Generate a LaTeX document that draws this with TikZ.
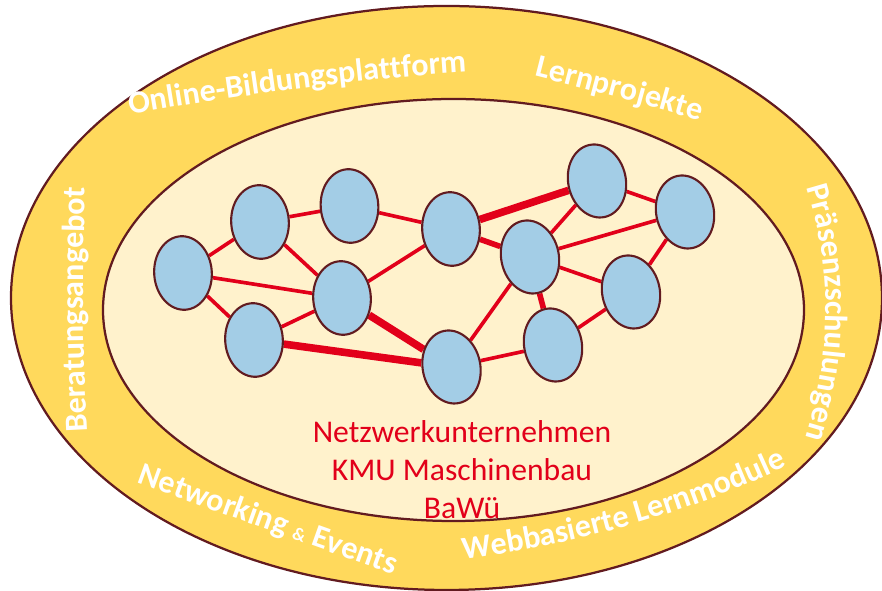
\documentclass[tikz,border=0pt]{standalone}
\usepackage{fontspec}
\setmainfont{Carlito}
\usetikzlibrary{shapes.geometric,decorations.text,backgrounds}

\definecolor{ringgold}{HTML}{FFD95C}
\definecolor{ringcream}{HTML}{FFF2CC}
\definecolor{firmblue}{HTML}{A3CDE6}
\definecolor{rimbrown}{HTML}{621B20}
\definecolor{linkred}{HTML}{E2001A}

\newcommand{\ringfont}{\bfseries\fontsize{22.8}{27}\selectfont}
\newcommand{\ampfont}{\bfseries\fontsize{13}{15}\selectfont}

\begin{document}
\begin{tikzpicture}[x=0.025cm, y=0.025cm,
    firm/.style={ellipse, draw=rimbrown, line width=1.5pt, fill=firmblue,
    minimum width=1.44cm, minimum height=1.84cm, inner sep=0pt, rotate=#1},
    firm/.default=4,
    link/.style={linkred, line width=2.6pt},
    medium/.style={link, line width=4pt},
    strong/.style={link, line width=5.4pt},
    ring/.style={draw=rimbrown, line width=1.6pt},
    ringtext/.style={decorate, decoration={text along path, text align=center,
    text color=white, text={#1}}}]

    \useasboundingbox (0,0) rectangle (882,591);

    % Companies
    \node[firm] (u1) at (183,318) {};
    \node[firm] (u2) at (260,369) {};
    \node[firm] (u3) at (349.5,385) {};
    \node[firm] (u4) at (254,251) {};
    \node[firm] (u5) at (342,293) {};
    \node[firm] (u6) at (451,362) {};
    \node[firm=12] (u7) at (451.5,224) {};
    \node[firm=12] (u8) at (530,334) {};
    \node[firm=12] (u9) at (597,410) {};
    \node[firm=12] (u10) at (685,379) {};
    \node[firm=12] (u11) at (631,299) {};
    \node[firm=12] (u12) at (553,246) {};

    \begin{scope}[on background layer]
        % Rings
        \draw[ring, fill=ringgold] (446.5,293) ellipse [x radius=435.5, y radius=292];
        \draw[ring, fill=ringcream] (453.5,281) ellipse [x radius=350.5, y radius=211];

        % Links
        \draw[link] (u1) -- (u2);
        \draw[link] (u1) -- (u5);
        \draw[link] (u1) -- (u4);
        \draw[link] (u2) -- (u3);
        \draw[link] (u2) -- (u5);
        \draw[link] (u3) -- (u6);
        \draw[link] (u4) -- (u5);
        \draw[strong] (u4) -- (u7);
        \draw[link] (u5) -- (u6);
        \draw[strong] (u5) -- (u7);
        \draw[medium] (u6) -- (u8);
        \draw[strong] (u6) -- (u9);
        \draw[link] (u7) -- (u8);
        \draw[link] (u7) -- (u12);
        \draw[link] (u8) -- (u9);
        \draw[link] (u8) -- (u10);
        \draw[link] (u8) -- (u11);
        \draw[medium] (u8) -- (u12);
        \draw[link] (u9) -- (u10);
        \draw[link] (u10) -- (u11);
        \draw[link] (u11) -- (u12);
    \end{scope}

    % Ring labels
    \path[ringtext={|\ringfont|Online-Bildungsplattform}]
        (112,473.5) .. controls (257.7,499.2) and (382.1,514.7) .. (485,520);
    \path[ringtext={|\ringfont|Lernprojekte}]
        (517.7,519.2) .. controls (583.9,502.7) and (650.1,484.9) .. (716.3,465.8);
    \path[ringtext={|\ringfont|Beratungsangebot}]
        (88,144) .. controls (82.7,235.3) and (82,327) .. (86,419);
    \path[ringtext={|\ringfont|Präsenzschulungen}]
        (802,418) .. controls (834,325) and (833.7,232) .. (801,139);
    \path[ringtext={|\ringfont|Networking |\ampfont|{\&}|\ringfont| Events}]
        (124,113) .. controls (218,79) and (312,45.3) .. (406,12);
    \path[ringtext={|\ringfont|Webbasierte Lernmodule}]
        (448,30) .. controls (577.3,45.3) and (695,79.2) .. (801,131.5);

    % Network caption
    \node[font=\fontsize{22.5}{27}\selectfont, text=linkred, align=center,
        inner sep=0pt, anchor=north] (caption) at (462,171)
        {Netzwerkunternehmen\\KMU Maschinenbau\\BaWü};
\end{tikzpicture}
\end{document}
